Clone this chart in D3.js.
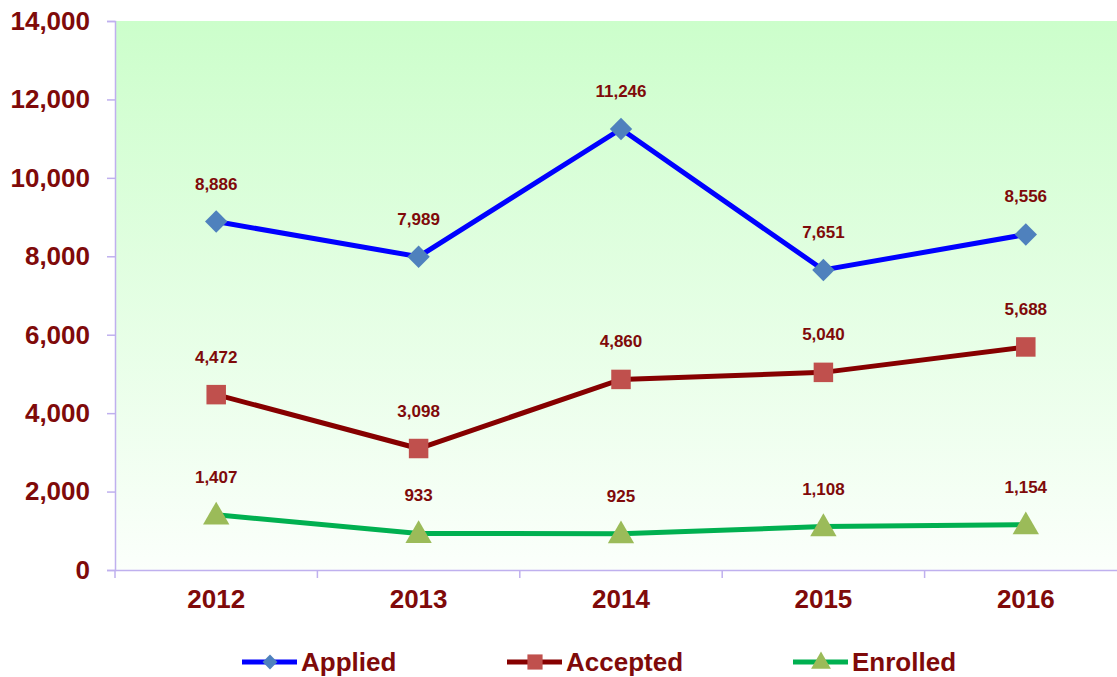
<!DOCTYPE html>
<html>
<head>
<meta charset="utf-8">
<script src="https://cdn.jsdelivr.net/npm/d3@7"></script>
<style>
  body { margin: 0; background: #fff; }
  svg { display: block; font-family: "Liberation Sans", Arial, sans-serif; }
</style>
</head>
<body>
<div id="chart"></div>
<script>
const width = 1117
const height = 677

// Dados
const years = ["2012", "2013", "2014", "2015", "2016"]
const applied = [8886, 7989, 11246, 7651, 8556]
const accepted = [4472, 3098, 4860, 5040, 5688]
const enrolled = [1407, 933, 925, 1108, 1154]
const yTicks = [0, 2000, 4000, 6000, 8000, 10000, 12000, 14000]

// diamante = quadrado girado 45 graus
const series = [
  { name: "Applied", values: applied, line: "#0000ff", marker: "#4f81bd", shape: d3.symbolSquare, rot: 45, size: 250, legSize: 110 },
  { name: "Accepted", values: accepted, line: "#860000", marker: "#c0504d", shape: d3.symbolSquare, rot: 0, size: 380, legSize: 230 },
  { name: "Enrolled", values: enrolled, line: "#00b050", marker: "#9bbb59", shape: d3.symbolTriangle, rot: 0, size: 300, legSize: 170 }
]

const textColor = "#7f0a0a"
const axisColor = "#bfb0ee"

const plot = { left: 115, right: 1127, top: 21, bottom: 570 }

const svg = d3.select("#chart").append("svg")
  .attr("width", width)
  .attr("height", height)

// Escalas
const x = d3.scaleBand().domain(years).range([plot.left, plot.right])
const y = d3.scaleLinear().domain([0, 14000]).range([plot.bottom, plot.top])

// Fundo em degrade
const grad = svg.append("defs").append("linearGradient")
  .attr("id", "bg").attr("x1", 0).attr("y1", 0).attr("x2", 0).attr("y2", 1)
grad.append("stop").attr("offset", "0%").attr("stop-color", "#ccfecb")
grad.append("stop").attr("offset", "100%").attr("stop-color", "#fbfffb")

svg.append("rect")
  .attr("x", plot.left).attr("y", plot.top)
  .attr("width", plot.right - plot.left).attr("height", plot.bottom - plot.top)
  .attr("fill", "url(#bg)")

// Eixo Y
const yAxis = svg.append("g")
  .attr("transform", `translate(${plot.left},0)`)
  .call(d3.axisLeft(y).tickValues(yTicks).tickSize(8).tickPadding(17).tickFormat(d3.format(",")))
yAxis.select(".domain").attr("stroke", axisColor).attr("stroke-width", 1.5)
yAxis.selectAll(".tick line").attr("stroke", axisColor).attr("stroke-width", 1.5)
yAxis.selectAll(".tick text")
  .attr("fill", textColor)
  .attr("font-size", 26)
  .attr("font-weight", "bold")
  .attr("font-family", "Liberation Sans, Arial, sans-serif")

// Eixo X
const xAxis = svg.append("g")
  .attr("transform", `translate(0,${plot.bottom})`)
  .call(d3.axisBottom(x).tickSize(0).tickPadding(20))
xAxis.select(".domain").attr("stroke", axisColor).attr("stroke-width", 1.5)
xAxis.selectAll(".tick text")
  .attr("fill", textColor)
  .attr("font-size", 26)
  .attr("font-weight", "bold")
  .attr("font-family", "Liberation Sans, Arial, sans-serif")

// Marcas entre categorias
svg.append("g").selectAll("line")
  .data(years)
  .join("line")
  .attr("x1", d => x(d)).attr("x2", d => x(d))
  .attr("y1", plot.bottom).attr("y2", plot.bottom + 8)
  .attr("stroke", axisColor).attr("stroke-width", 1.5)

const cx = i => x(years[i]) + x.bandwidth() / 2

// Linhas e marcadores
const line = d3.line().x((d, i) => cx(i)).y(d => y(d))

series.forEach(s => {
  const g = svg.append("g")
  g.append("path")
    .datum(s.values)
    .attr("d", line)
    .attr("fill", "none")
    .attr("stroke", s.line)
    .attr("stroke-width", 5)

  g.selectAll(".mk")
    .data(s.values)
    .join("path")
    .attr("class", "mk")
    .attr("transform", (d, i) => `translate(${cx(i)},${y(d) + (s.shape === d3.symbolTriangle ? 2 : 0)}) rotate(${s.rot})`)
    .attr("d", d3.symbol().type(s.shape).size(s.size))
    .attr("fill", s.marker)

  g.selectAll(".lbl")
    .data(s.values)
    .join("text")
    .attr("class", "lbl")
    .attr("x", (d, i) => cx(i))
    .attr("y", d => y(d) - 32)
    .attr("text-anchor", "middle")
    .attr("fill", textColor)
    .attr("font-size", 17)
    .attr("font-weight", "bold")
    .text(d => d3.format(",")(d))
})

// Legenda
const legendX = [242, 507, 793]
const leg = svg.append("g").selectAll("g")
  .data(series)
  .join("g")
  .attr("transform", (d, i) => `translate(${legendX[i]},662)`)

leg.append("line")
  .attr("x1", 0).attr("x2", 55)
  .attr("stroke", d => d.line).attr("stroke-width", 5)
leg.append("path")
  .attr("transform", d => `translate(28,${d.shape === d3.symbolTriangle ? 1 : 0}) rotate(${d.rot})`)
  .attr("d", d => d3.symbol().type(d.shape).size(d.legSize)())
  .attr("fill", d => d.marker)
leg.append("text")
  .attr("x", 59)
  .attr("y", 9)
  .attr("fill", textColor)
  .attr("font-size", 26)
  .attr("font-weight", "bold")
  .text(d => d.name)
</script>
</body>
</html>
